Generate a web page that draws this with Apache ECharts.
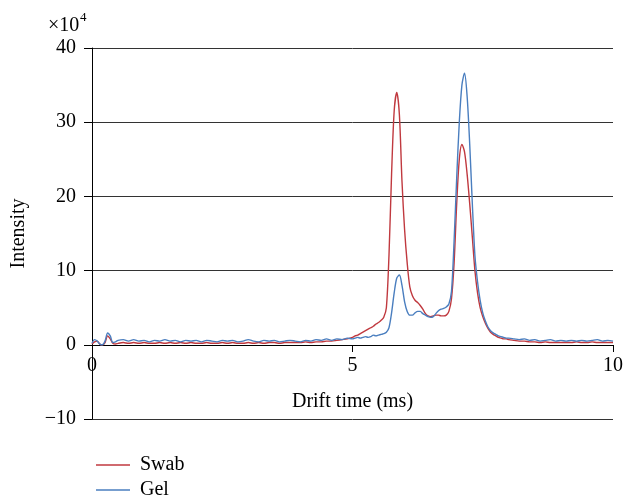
<!DOCTYPE html>
<html>
<head>
<meta charset="utf-8">
<script src="https://cdn.jsdelivr.net/npm/echarts@6/dist/echarts.min.js"></script>
<style>html,body{margin:0;padding:0;background:#fff}#c{width:626px;height:503px}</style>
</head>
<body>
<div id="c"></div>
<script>
// Drift time (ms)
var driftTime = [
  0, 0.05, 0.1, 0.15, 0.2, 0.25, 0.3, 0.35, 0.4, 0.45, 0.5,
  0.6, 0.7, 0.8, 0.9, 1.0, 1.1, 1.2, 1.3, 1.4, 1.5, 1.6, 1.7, 1.8, 1.9, 2.0,
  2.1, 2.2, 2.3, 2.4, 2.5, 2.6, 2.7, 2.8, 2.9, 3.0, 3.1, 3.2, 3.3, 3.4, 3.5,
  3.6, 3.7, 3.8, 3.9, 4.0, 4.1, 4.2, 4.3, 4.4, 4.5, 4.6, 4.7, 4.8, 4.9,
  5.00, 5.05, 5.10, 5.15, 5.20, 5.25, 5.30, 5.35, 5.40, 5.45, 5.50, 5.55, 5.60, 5.65,
  5.70, 5.75, 5.80, 5.85, 5.90, 5.95, 6.00, 6.05, 6.10, 6.15, 6.20, 6.25, 6.30, 6.35,
  6.40, 6.45, 6.50, 6.55, 6.60, 6.65, 6.70, 6.75, 6.80, 6.85, 6.90, 6.95, 7.00, 7.05,
  7.10, 7.15, 7.20, 7.25, 7.30, 7.35, 7.40, 7.45, 7.50, 7.55, 7.60, 7.65, 7.70, 7.75,
  7.80, 7.85, 7.90, 7.95, 8.00,
  8.1, 8.2, 8.3, 8.4, 8.5, 8.6, 8.7, 8.8, 8.9, 9.0, 9.1, 9.2, 9.3, 9.4, 9.5,
  9.6, 9.7, 9.8, 9.9, 10.0
];
// Intensity (x10^4)
var swab = [
  0.1, 0.4, 0.5, 0.1, 0.0, 0.3, 1.2, 0.8, 0.2, 0.1, 0.2,
  0.3, 0.2, 0.3, 0.2, 0.3, 0.2, 0.2, 0.3, 0.2, 0.3, 0.2, 0.3, 0.2, 0.3, 0.2,
  0.2, 0.3, 0.2, 0.2, 0.3, 0.2, 0.3, 0.2, 0.2, 0.3, 0.2, 0.3, 0.2, 0.3, 0.3,
  0.2, 0.3, 0.3, 0.3, 0.3, 0.4, 0.3, 0.4, 0.4, 0.5, 0.5, 0.6, 0.7, 0.8,
  1.0, 1.2, 1.3, 1.5, 1.7, 1.9, 2.1, 2.3, 2.5, 2.8, 3.0, 3.3, 3.7, 5.0,
  12.0, 23.0, 31.5, 34.0, 31.0, 22.0, 15.5, 11.0, 7.8, 6.6, 6.0, 5.7, 5.3, 4.8,
  4.2, 3.9, 3.8, 3.9, 4.0, 4.0, 3.9, 3.9, 4.0, 4.5, 6.2, 11.0, 19.0, 25.0,
  27.0, 26.0, 23.0, 19.0, 14.5, 10.0, 7.0, 5.0, 3.8, 2.9, 2.2, 1.7, 1.4, 1.2,
  1.0, 0.9, 0.8, 0.8, 0.7,
  0.6, 0.5, 0.5, 0.4, 0.4, 0.3, 0.4, 0.3, 0.3, 0.3, 0.3, 0.3, 0.4, 0.3, 0.3,
  0.4, 0.3, 0.3, 0.3, 0.3
];
var gel = [
  0.2, 0.7, 0.5, 0.1, 0.0, 0.5, 1.6, 1.2, 0.3, 0.4, 0.6,
  0.7, 0.5, 0.7, 0.5, 0.6, 0.4, 0.6, 0.5, 0.7, 0.5, 0.6, 0.4, 0.6, 0.5, 0.6,
  0.4, 0.6, 0.5, 0.4, 0.6, 0.5, 0.6, 0.4, 0.5, 0.7, 0.5, 0.4, 0.6, 0.5, 0.6,
  0.4, 0.5, 0.6, 0.5, 0.4, 0.6, 0.5, 0.7, 0.6, 0.8, 0.6, 0.8, 0.7, 0.9,
  0.8, 0.9, 1.0, 0.9, 1.0, 1.1, 1.0, 1.1, 1.3, 1.2, 1.3, 1.4, 1.5, 1.7,
  2.3, 4.3, 7.0, 9.0, 9.4, 8.0, 5.8, 4.5, 4.0, 4.0, 4.3, 4.5, 4.5, 4.2,
  4.0, 3.8, 3.7, 3.8, 4.2, 4.6, 4.8, 4.9, 5.1, 5.5, 7.2, 14.0, 22.5, 30.0,
  35.0, 36.6, 33.5, 27.0, 19.0, 12.0, 8.5, 6.0, 4.3, 3.2, 2.4, 1.9, 1.6, 1.4,
  1.2, 1.1, 1.0, 0.9, 0.9,
  0.8, 0.7, 0.8, 0.6, 0.7, 0.5, 0.6, 0.7, 0.5, 0.6, 0.5, 0.6, 0.5, 0.6, 0.5,
  0.6, 0.7, 0.5, 0.6, 0.5
];
var seriesNames = ['Swab', 'Gel'];
var xTicks = [0, 5, 10];
var yTicks = [-10, 0, 10, 20, 30, 40];

var FONT = "'Liberation Serif', 'DejaVu Serif', serif";
function pairs(xs, ys) { return xs.map(function (x, i) { return [x, ys[i]]; }); }

var chart = echarts.init(document.getElementById('c'), null, { renderer: 'canvas' });
chart.setOption({
  animation: false,
  backgroundColor: '#fff',
  grid: { left: 92, right: 13, top: 48, bottom: 84, containLabel: false },
  xAxis: {
    type: 'value', min: xTicks[0], max: xTicks[xTicks.length - 1], interval: 5,
    position: 'bottom', offset: -74,
    axisLine: { onZero: false, lineStyle: { color: '#000', width: 1 } },
    axisTick: { show: true, length: 7, lineStyle: { color: '#000' } },
    axisLabel: { color: '#000', fontFamily: FONT, fontSize: 20, margin: 11 },
    splitLine: { show: false },
    name: 'Drift time (ms)', nameLocation: 'middle', nameGap: 47,
    nameTextStyle: { color: '#000', fontFamily: FONT, fontSize: 20 }
  },
  yAxis: {
    type: 'value', min: yTicks[0], max: yTicks[yTicks.length - 1], interval: 10,
    axisLine: { show: true, onZero: false, lineStyle: { color: '#000', width: 1 } },
    axisTick: { show: true, length: 8, lineStyle: { color: '#000' } },
    axisLabel: {
      color: '#000', fontFamily: FONT, fontSize: 20, margin: 16,
      formatter: function (v) { return v < 0 ? '\u2212' + Math.abs(v) : String(v); }
    },
    splitLine: { show: true, lineStyle: { color: '#333', width: 1 } },
    name: 'Intensity', nameLocation: 'middle', nameGap: 63, nameRotate: 90,
    nameTextStyle: { color: '#000', fontFamily: FONT, fontSize: 20 }
  },
  legend: {
    data: [{ name: seriesNames[0], icon: 'rect' }, { name: seriesNames[1], icon: 'rect' }],
    orient: 'vertical', left: 96, top: 455, padding: 0,
    itemWidth: 34, itemHeight: 1.5, itemGap: 5,
    textStyle: { color: '#000', fontFamily: FONT, fontSize: 20, lineHeight: 20, padding: [0, 0, 0, 5] }
  },
  graphic: [
    { type: 'text', left: 48, top: 16, style: { text: '\u00d710', fill: '#000', font: '20px ' + FONT } },
    { type: 'text', left: 80, top: 11, style: { text: '4', fill: '#000', font: '13px ' + FONT } }
  ],
  series: [
    {
      name: seriesNames[0], type: 'line', data: pairs(driftTime, swab),
      smooth: 0.3, symbol: 'none', lineStyle: { color: '#c0393f', width: 1.4 },
      itemStyle: { color: '#c0393f' }, z: 3
    },
    {
      name: seriesNames[1], type: 'line', data: pairs(driftTime, gel),
      smooth: 0.3, symbol: 'none', lineStyle: { color: '#4a7ebf', width: 1.4 },
      itemStyle: { color: '#4a7ebf' }, z: 4
    }
  ]
});
</script>
</body>
</html>
